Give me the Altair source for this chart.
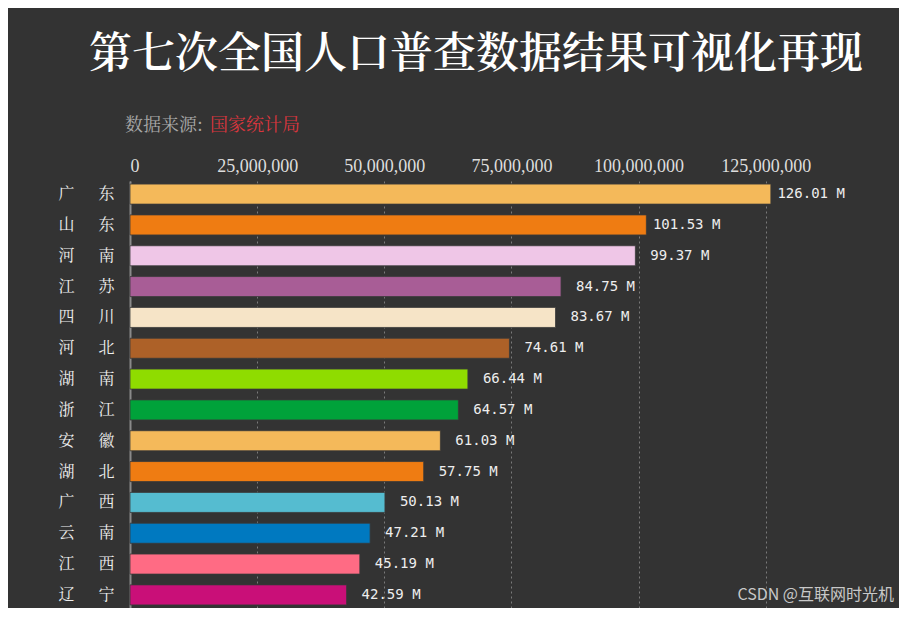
import altair as alt
import pandas as pd

title_text = "第七次全国人口普查数据结果可视化再现"
source_prefix = "数据来源:"
source_name = "国家统计局"
watermark = "CSDN @互联网时光机"

provinces = ["广东", "山东", "河南", "江苏", "四川", "河北", "湖南",
             "浙江", "安徽", "湖北", "广西", "云南", "江西", "辽宁"]
population_m = [126.01, 101.53, 99.37, 84.75, 83.67, 74.61, 66.44,
                64.57, 61.03, 57.75, 50.13, 47.21, 45.19, 42.59]
bar_colors = ["#f4b95a", "#ef7c12", "#efc6e7", "#a85d96", "#f6e4c7", "#ad6128", "#8fdc00",
              "#00a23a", "#f4b95a", "#ef7c12", "#55bcd0", "#0079c0", "#ff6b84", "#c90f78"]
tick_values = [0, 25000000, 50000000, 75000000, 100000000, 125000000]

df = pd.DataFrame({
    "province": provinces,
    "value": [v * 1e6 for v in population_m],
    "label": [f"{v:.2f} M" for v in population_m],
})

SERIF_CJK = "Noto Serif CJK SC, Noto Sans CJK SC, serif"

y_enc = alt.Y("province:N", sort=provinces,
              scale=alt.Scale(paddingInner=0.35, paddingOuter=0.1),
              axis=alt.Axis(title=None, domain=True, domainColor="#8a8a8a", domainWidth=2,
                            ticks=False, grid=False, labelColor="#eeeeee", labelFontSize=16,
                            labelFont=SERIF_CJK, labelPadding=16,
                            labelExpr="substring(datum.label,0,1) + '\u3000\u2002' + substring(datum.label,1,2)"))
x_enc = alt.X("value:Q", scale=alt.Scale(domain=[0, 140000000], nice=False),
              axis=alt.Axis(title=None, orient="top", values=tick_values, format=",d",
                            labelFont="Liberation Serif", labelFontSize=18, labelColor="#dddddd",
                            labelPadding=6, domain=False, ticks=False, grid=True,
                            gridColor="#7a7a7a", gridDash=[2, 3], gridWidth=1))

base = alt.Chart(df)
bars = base.mark_bar(stroke="#3a3a3a", strokeWidth=0.8).encode(
    x=x_enc, y=y_enc,
    color=alt.Color("province:N", scale=alt.Scale(domain=provinces, range=bar_colors), legend=None),
)
labels = base.mark_text(align="right", baseline="middle", dx=74, font="DejaVu Sans Mono",
                        fontSize=14, color="#eeeeee").encode(
    x="value:Q", y=alt.Y("province:N", sort=provinces), text="label:N")

def annot(txt, x, y, **kw):
    return alt.Chart(pd.DataFrame({"t": [txt]})).mark_text(**kw).encode(
        text="t:N", x=alt.value(x), y=alt.value(y))

title = annot(title_text, 346, -126, align="center", baseline="middle", font=SERIF_CJK,
              fontSize=43, fontWeight=600, color="#ffffff")
src1 = annot(source_prefix, -5, -55, align="left", baseline="middle", font=SERIF_CJK,
             fontSize=18, color="#a8a8a8")
src2 = annot(source_name, 80, -55, align="left", baseline="middle", font=SERIF_CJK,
             fontSize=18, color="#d9363e")
wm = annot(watermark, 764, 414, align="right", baseline="middle", font="Noto Sans CJK SC",
           fontSize=16, color="#c8c8c8")

chart = alt.layer(bars, labels, title, src1, src2, wm).properties(
    width=712, height=427,
    background="#333333",
    padding={"left": 122, "top": 173, "right": 57, "bottom": 0},
    autosize=alt.AutoSizeParams(type="none"),
).configure_view(stroke=None).configure_axis(labelOverlap=False)

chart.save("out.html", embed_options={"renderer": "svg", "actions": False})
